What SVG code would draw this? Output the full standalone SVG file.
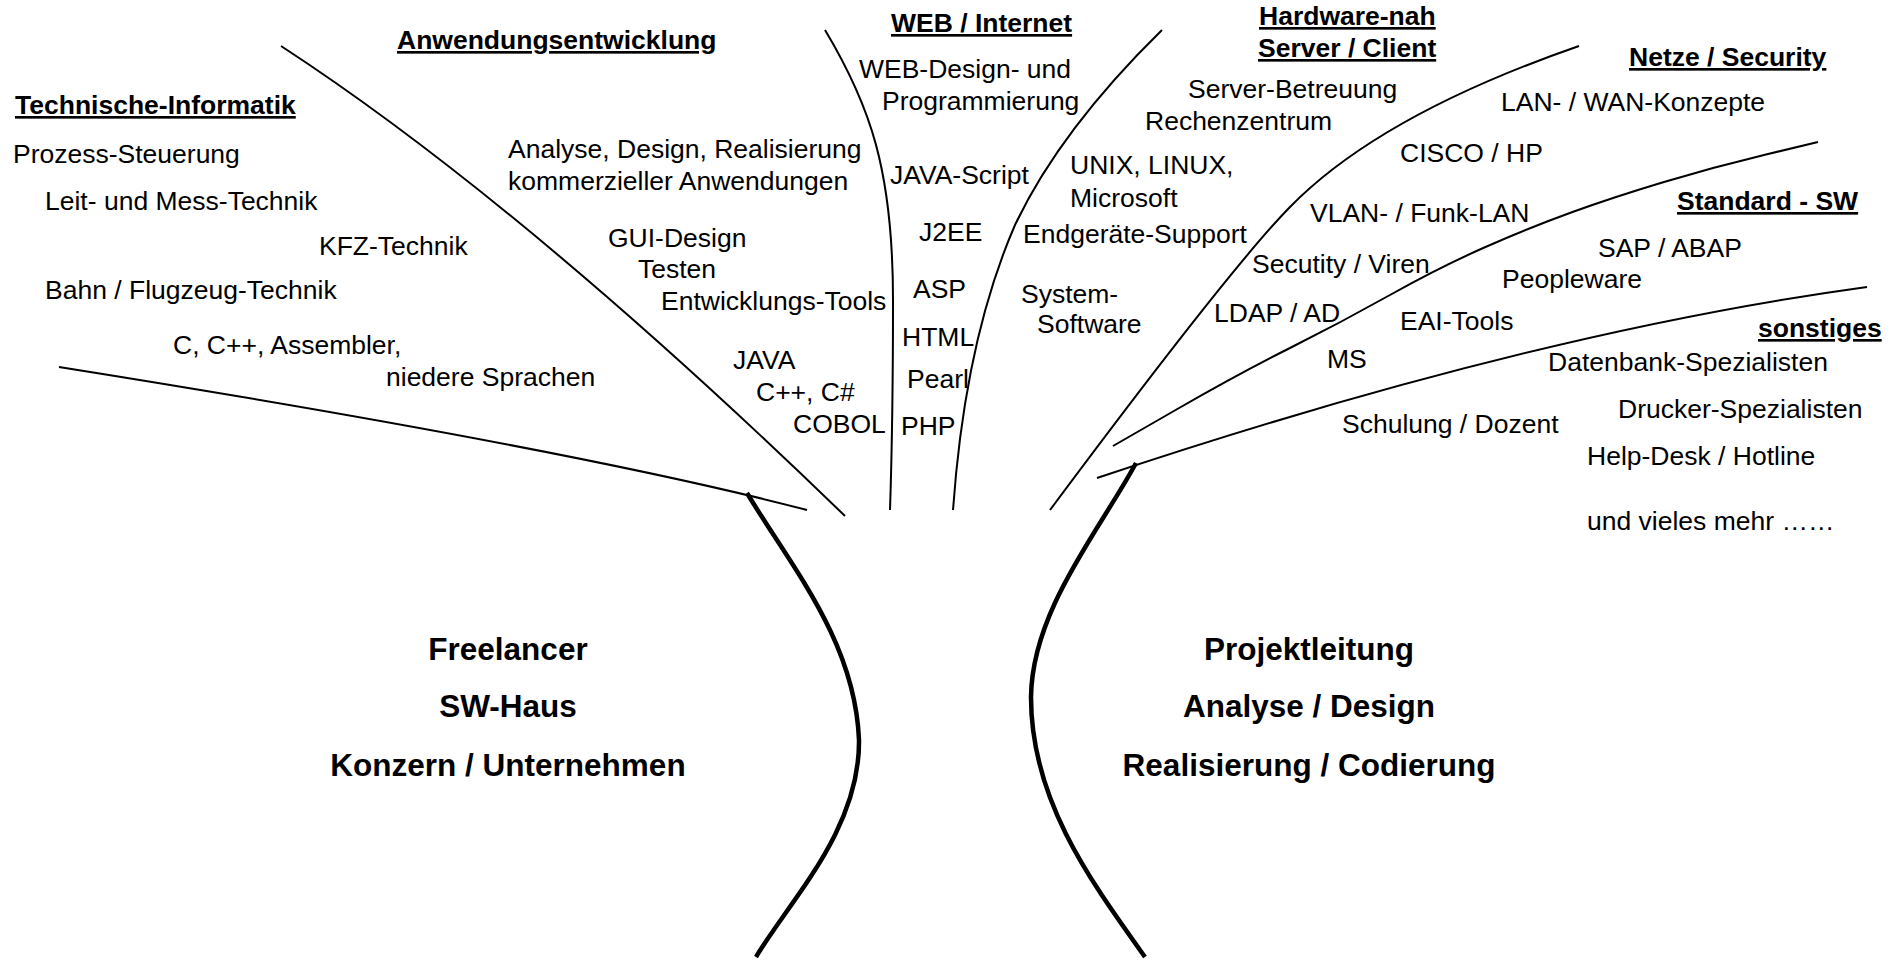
<svg xmlns="http://www.w3.org/2000/svg" width="1901" height="960" viewBox="0 0 1901 960">
<style>
text{font-family:"Liberation Sans",Arial,Helvetica,sans-serif;font-size:26.5px;fill:#000}
.h{font-weight:bold;text-decoration:underline}
.b{font-weight:bold;font-size:31.5px;text-anchor:middle}
.ln{fill:none;stroke:#000;stroke-width:2}
.tr{fill:none;stroke:#000;stroke-width:4.5}
</style>
<rect width="1901" height="960" fill="#fff"/>
<g id="connectors">
<path class="ln" d="M59,367 Q574,449 807,510"/>
<path class="ln" d="M281,46 Q522,203 845,516"/>
<path class="ln" d="M825,30 C870,105 893,170 893,300 Q893,420 890,510"/>
<path class="ln" d="M1162,30 Q1060,130 1015,225 Q965,340 953,510"/>
<path class="ln" d="M1579,46 Q1380,115 1290,207 Q1231,267 1050,510"/>
<path class="ln" d="M1113,446 L1176.5,409.5 Q1240,373 1290,348 Q1340,323 1390,295 Q1440,267 1485.5,247 Q1531,227 1572.5,212 Q1614,197 1664,182 Q1714,167 1766,154.5 L1818,142"/>
<path class="ln" d="M1097,478 Q1530,333 1867,287"/>
<path class="tr" d="M747,493 C790,565 855,640 859,740 C860,830 790,900 756,957"/>
<path class="tr" d="M1136,463 C1100,530 1032,610 1031,697 C1031,800 1090,880 1145,957"/>
</g>
<g id="technische-informatik">
<text class="h" x="15" y="114">Technische-Informatik</text>
<text x="13" y="163">Prozess-Steuerung</text>
<text x="45" y="210">Leit- und Mess-Technik</text>
<text x="319" y="255">KFZ-Technik</text>
<text x="45" y="299">Bahn / Flugzeug-Technik</text>
<text x="173" y="354">C, C++, Assembler,</text>
<text x="386" y="386">niedere Sprachen</text>
</g>
<g id="anwendungsentwicklung">
<text class="h" x="397" y="49">Anwendungsentwicklung</text>
<text x="508" y="158">Analyse, Design, Realisierung</text>
<text x="508" y="190">kommerzieller Anwendungen</text>
<text x="608" y="247">GUI-Design</text>
<text x="638" y="278">Testen</text>
<text x="661" y="310">Entwicklungs-Tools</text>
<text x="733" y="369">JAVA</text>
<text x="756" y="401">C++, C#</text>
<text x="793" y="433">COBOL</text>
</g>
<g id="web-internet">
<text class="h" x="891" y="32">WEB / Internet</text>
<text x="859" y="78">WEB-Design- und</text>
<text x="882" y="110">Programmierung</text>
<text x="890" y="184">JAVA-Script</text>
<text x="919" y="241">J2EE</text>
<text x="913" y="298">ASP</text>
<text x="902" y="346">HTML</text>
<text x="907" y="388">Pearl</text>
<text x="901" y="435">PHP</text>
</g>
<g id="hardware-nah">
<text class="h" x="1259" y="25">Hardware-nah</text>
<text class="h" x="1258" y="57">Server / Client</text>
<text x="1188" y="98">Server-Betreuung</text>
<text x="1145" y="130">Rechenzentrum</text>
<text x="1070" y="174">UNIX, LINUX,</text>
<text x="1070" y="207">Microsoft</text>
<text x="1023" y="243">Endgeräte-Support</text>
<text x="1021" y="303">System-</text>
<text x="1037" y="333">Software</text>
</g>
<g id="netze-security">
<text class="h" x="1629" y="66">Netze / Security</text>
<text x="1501" y="111">LAN- / WAN-Konzepte</text>
<text x="1400" y="162">CISCO / HP</text>
<text x="1310" y="222">VLAN- / Funk-LAN</text>
<text x="1252" y="273">Secutity / Viren</text>
<text x="1214" y="322">LDAP / AD</text>
</g>
<g id="standard-sw">
<text class="h" x="1677" y="210">Standard - SW</text>
<text x="1598" y="257">SAP / ABAP</text>
<text x="1502" y="288">Peopleware</text>
<text x="1400" y="330">EAI-Tools</text>
<text x="1327" y="368">MS</text>
</g>
<g id="sonstiges">
<text class="h" x="1758" y="337">sonstiges</text>
<text x="1548" y="371">Datenbank-Spezialisten</text>
<text x="1618" y="418">Drucker-Spezialisten</text>
<text x="1587" y="465">Help-Desk / Hotline</text>
<text x="1342" y="433">Schulung / Dozent</text>
<text x="1587" y="530">und vieles mehr ……</text>
</g>
<g id="arbeitgeber">
<text class="b" x="508" y="660">Freelancer</text>
<text class="b" x="508" y="717">SW-Haus</text>
<text class="b" x="508" y="776">Konzern / Unternehmen</text>
</g>
<g id="taetigkeiten">
<text class="b" x="1309" y="660">Projektleitung</text>
<text class="b" x="1309" y="717">Analyse / Design</text>
<text class="b" x="1309" y="776">Realisierung / Codierung</text>
</g>
</svg>
